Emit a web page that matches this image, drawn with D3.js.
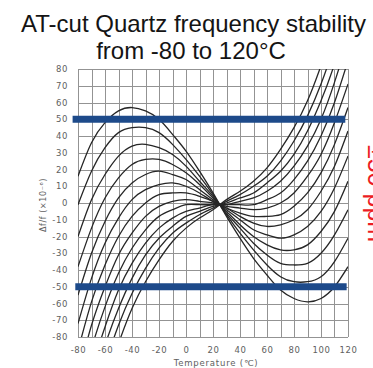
<!DOCTYPE html>
<html>
<head>
<meta charset="utf-8">
<script src="https://cdn.jsdelivr.net/npm/d3@7"></script>
<style>
  html, body { margin: 0; padding: 0; background: #fff; overflow: hidden; }
  svg { display: block; }
</style>
</head>
<body>
<svg id="chart" width="373" height="368"></svg>
<script>
// Temperature points (°C) at which each frequency-deviation curve is sampled
const temperatures = [-80, -70, -60, -50, -40, -30, -20, -10, 0, 10, 20, 30, 40, 50, 60, 70, 80, 90, 100, 110, 120];

// Δf/f (ppm) of each cut-angle curve at the temperatures above
const curve01 = [16, 36, 48, 55, 57, 55, 50, 41, 31, 19, 6, -8, -21, -33, -43, -52, -57, -59, -57, -50, -38];
const curve02 = [-1, 19, 33, 42, 45, 45, 42, 35, 26, 16, 5, -7, -18, -28, -37, -44, -47, -47, -44, -35, -21];
const curve03 = [-20, 2, 17, 28, 34, 35, 33, 29, 22, 13, 4, -6, -15, -24, -31, -36, -37, -36, -30, -19, -4];
const curve04 = [-38, -15, 3, 15, 23, 26, 26, 23, 18, 11, 3, -5, -13, -20, -25, -28, -28, -25, -17, -5, 13];
const curve05 = [-55, -30, -11, 3, 12, 17, 19, 17, 14, 8, 2, -4, -10, -16, -19, -21, -19, -14, -5, 9, 28];
const curve06 = [-72, -45, -24, -9, 2, 8, 11, 12, 10, 6, 1, -3, -8, -12, -14, -13, -10, -4, 7, 22, 43];
const curve07 = [-88, -59, -37, -20, -8, 0, 5, 6, 6, 4, 1, -3, -6, -8, -8, -7, -2, 6, 18, 35, 57];
const curve08 = [-103, -73, -50, -31, -18, -8, -2, 1, 2, 1, 0, -2, -3, -4, -3, 0, 6, 16, 29, 48, 71];
const curve09 = [-118, -87, -62, -42, -27, -16, -8, -4, -1, -1, -1, -1, -1, -1, 2, 6, 14, 25, 40, 60, 85];
const curve10 = [-133, -100, -74, -52, -36, -24, -15, -9, -5, -3, -1, -1, 1, 3, 7, 13, 22, 34, 50, 72, 98];
const curve11 = [-147, -113, -85, -63, -45, -31, -21, -14, -8, -5, -2, 0, 3, 6, 12, 19, 29, 43, 61, 83, 111];
const curve12 = [-162, -127, -97, -73, -54, -39, -27, -18, -12, -7, -3, 1, 5, 10, 16, 25, 37, 52, 71, 95, 125];
const curve13 = [-177, -140, -109, -84, -63, -47, -34, -23, -15, -9, -4, 2, 7, 13, 21, 32, 45, 61, 82, 107, 138];
const curves = [curve01, curve02, curve03, curve04, curve05, curve06, curve07,
                curve08, curve09, curve10, curve11, curve12, curve13];

// Axis ticks
const xTickValues = [-80, -60, -40, -20, 0, 20, 40, 60, 80, 100, 120];
const xGridValues = [-80, -70, -60, -50, -40, -30, -20, -10, 0, 10, 20, 30, 40, 50, 60, 70, 80, 90, 100, 110, 120];
const yTickValues = [80, 70, 60, 50, 40, 30, 20, 10, 0, -10, -20, -30, -40, -50, -60, -70, -80];

// ±50 ppm tolerance bands: level and temperature span
const limitLevels = [50, -50];
const limitFrom = [-84, -82];
const limitTo = [118, 119];

const svg = d3.select("#chart");

const plotLeft = 78, plotRight = 348, plotTop = 69, plotBottom = 337;
const x = d3.scaleLinear().domain([-80, 120]).range([plotLeft, plotRight]);
const y = d3.scaleLinear().domain([-80, 80]).range([plotBottom, plotTop]);

// Title
const title = svg.append("text")
  .attr("text-anchor", "middle")
  .attr("font-family", "'Liberation Sans', Arial, sans-serif")
  .attr("font-size", 24)
  .attr("fill", "#141414");
title.append("tspan").attr("x", 193.5).attr("y", 31.5).text("AT-cut Quartz frequency stability");
title.append("tspan").attr("x", 191).attr("y", 59).text("from -80 to 120°C");

// Grid
const grid = svg.append("g").attr("stroke", "#939393").attr("stroke-width", 1);
grid.selectAll("line.v").data(xGridValues).join("line")
  .attr("class", "v")
  .attr("x1", d => Math.round(x(d)) + 0.5).attr("x2", d => Math.round(x(d)) + 0.5)
  .attr("y1", plotTop).attr("y2", plotBottom);
grid.selectAll("line.h").data(yTickValues).join("line")
  .attr("class", "h")
  .attr("y1", d => Math.round(y(d)) + 0.5).attr("y2", d => Math.round(y(d)) + 0.5)
  .attr("x1", plotLeft).attr("x2", plotRight);

// Tick labels via d3 axes
const tickFont = "'DejaVu Sans', Verdana, sans-serif";
const yAxis = svg.append("g")
  .attr("transform", `translate(${plotLeft},0)`)
  .call(d3.axisLeft(y).tickValues(yTickValues).tickSize(0).tickPadding(10));
const xAxis = svg.append("g")
  .attr("transform", `translate(0,${plotBottom})`)
  .call(d3.axisBottom(x).tickValues(xTickValues).tickSize(0).tickPadding(10));
[xAxis, yAxis].forEach(g => {
  g.select(".domain").remove();
  g.selectAll("text")
    .attr("font-family", tickFont)
    .attr("font-size", 8.5)
    .attr("letter-spacing", 0.6)
    .attr("fill", "#606060")
    .text(d => String(d));
});

// Axis titles
svg.append("text")
  .attr("x", 216).attr("y", 365.5)
  .attr("text-anchor", "middle")
  .attr("font-family", tickFont)
  .attr("font-size", 8.5)
  .attr("letter-spacing", 0.8)
  .attr("fill", "#606060")
  .text("Temperature (℃)");

svg.append("text")
  .attr("transform", "translate(46,205) rotate(-90)")
  .attr("text-anchor", "middle")
  .attr("font-family", tickFont)
  .attr("font-size", 8)
  .attr("letter-spacing", 0.6)
  .attr("fill", "#606060")
  .text("Δf/f (×10⁻⁶)");

// Curves, clipped to the plot area
svg.append("clipPath").attr("id", "plotClip")
  .append("rect").attr("x", plotLeft).attr("y", plotTop)
  .attr("width", plotRight - plotLeft).attr("height", plotBottom - plotTop);

const line = d3.line()
  .x((d, i) => x(temperatures[i]))
  .y(d => y(d))
  .curve(d3.curveNatural);

svg.append("g").attr("clip-path", "url(#plotClip)")
  .selectAll("path").data(curves).join("path")
  .attr("d", line)
  .attr("fill", "none")
  .attr("stroke", "#262626")
  .attr("stroke-width", 1.3);

// Tolerance bands
svg.selectAll("line.limit").data(limitLevels).join("line")
  .attr("class", "limit")
  .attr("x1", (d, i) => x(limitFrom[i]))
  .attr("x2", (d, i) => x(limitTo[i]))
  .attr("y1", d => y(d)).attr("y2", d => y(d))
  .attr("stroke", "#1d4a8a")
  .attr("stroke-width", 7);

// Side note running down the right edge
svg.append("text")
  .attr("transform", "translate(368,145) rotate(90)")
  .attr("font-family", "'Liberation Sans', Arial, sans-serif")
  .attr("font-size", 25)
  .attr("fill", "#ec1c24")
  .text("±50 ppm");
</script>
</body>
</html>
